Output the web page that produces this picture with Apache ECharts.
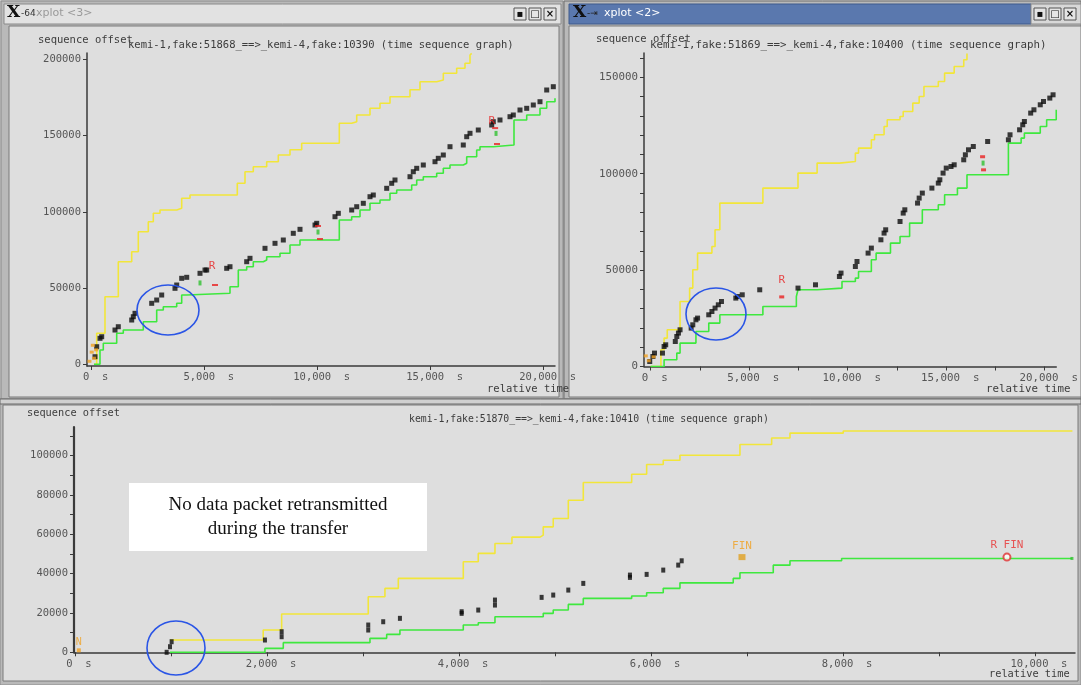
<!DOCTYPE html>
<html><head><meta charset="utf-8">
<script src="https://cdn.jsdelivr.net/npm/echarts@6/dist/echarts.min.js"></script>
<style>html,body{margin:0;padding:0;background:#fff}#c{width:1081px;height:685px}</style>
</head><body><div id="c"></div>
<script>
// ---------------- DATA ----------------
// Top-left graph (kemi-1,fake:51868 ==> kemi-4,fake:10390)
const tlYellow = [[100,0],[221,20341],[588,44357],[1177,67323],[1770,73885],[2062,87008],[2504,93570],[2726,99081],[3022,101247],[3761,102362],[3982,108924],[4350,111089],[6442,118766],[6783,126378],[7150,129659],[7743,132940],[8257,137336],[8774,140748],[9292,145013],[10956,158136],[11504,159186],[11726,163583],[12314,167979],[12757,171260],[13199,175591],[14084,180184],[14527,185433],[15265,186549],[15558,190945],[16150,194226],[16518,197507],[16739,202953],[16814,204000]];
const tlGreen = [[100,0],[367,9383],[513,13780],[1106,20341],[1398,22507],[2283,27953],[2876,35630],[3168,37795],[3761,40026],[3982,45472],[4204,46588],[6119,50919],[6487,61877],[6858,64042],[7150,67323],[7593,68438],[7743,70604],[8332,72835],[8774,78281],[9217,81562],[10956,94685],[11504,96850],[11872,101247],[12314,105643],[12757,107808],[13199,112205],[13496,114370],[14159,117651],[14381,120932],[14673,123097],[15265,125328],[15558,128609],[15854,130774],[16442,131890],[16593,136220],[17035,140617],[17181,142782],[17770,143898],[18686,160302],[19248,163583],[19836,167979],[20133,172310],[20500,174541]];
const tlSegments = [[146,4987],[221,11549],[367,17060],[442,18110],[1031,22507],[1177,24672],[1770,29068],[1841,31234],[1916,33465],[2655,40026],[2876,42192],[3097,45472],[3686,49869],[3761,52034],[3982,56430],[4204,57087],[4792,59711],[5013,61877],[5088,61877],[5973,62992],[6119,64042],[6858,67323],[7004,69554],[7668,76115],[8111,79396],[8478,81562],[8920,85958],[9217,88583],[9881,91404],[9956,92520],[10765,96850],[10912,99081],[11504,101247],[11726,103412],[12018,105643],[12314,109974],[12460,111089],[13053,115486],[13274,118766],[13420,120932],[14084,123097],[14230,126378],[14381,128609],[14673,130774],[15190,132940],[15336,135171],[15558,137336],[15854,142782],[16442,143898],[16593,149344],[16739,151575],[17106,153740],[17699,157021],[17770,159186],[18066,160302],[18509,162467],[18655,163583],[18951,166864],[19248,167979],[19540,170144],[19836,172310],[20133,179987],[20425,182152]];
const tlRetransR = [[5323,59000],[17699,154500]];
const tlRedMarks = [[5456,52034],[10013,90748],[10102,82218],[17934,144554],[17850,155000]];
const tlGreenMarks = [[4792,53400],[10013,86800],[17890,151500]];
const tlSyn = [[-100,2000],[100,4000],[0,8000],[200,9500],[50,12500]];

// Top-right graph (kemi-1,fake:51869 ==> kemi-4,fake:10400)
const trYellow = [[0,0],[519,8662],[680,14730],[840,19035],[1490,33714],[1976,40664],[2136,50156],[2379,58817],[3107,62241],[3267,70903],[3510,84751],[5694,92531],[7476,100311],[8447,105498],[9578,106328],[10388,110685],[10549,113278],[11199,117583],[11359,120176],[11845,124481],[12005,127956],[12655,129668],[12816,132261],[13301,136618],[13626,140041],[13869,145228],[14597,147822],[14917,152178],[15403,155602],[15888,159077],[16053,162400]];
const trGreen = [[0,0],[680,3475],[1325,6950],[1490,12137],[2296,18154],[2947,22510],[3510,26815],[5694,31120],[7393,36307],[7476,39782],[8447,40664],[9709,44087],[10388,45851],[10549,49274],[11199,55342],[11442,58817],[12170,64004],[12655,67427],[13141,74378],[13786,81276],[14597,83869],[14917,89056],[15568,92531],[16053,99429],[18155,115871],[18801,118465],[18966,121058],[19772,124481],[20097,127956],[20583,133143]];
const trSegments = [[-49,2593],[112,5187],[194,6950],[597,6950],[680,10373],[762,11255],[1248,12967],[1325,15560],[1408,17324],[1490,19035],[2053,19917],[2136,21629],[2296,24222],[2379,25104],[2947,26815],[3107,28527],[3267,30290],[3432,32002],[3592,33714],[4320,35477],[4403,36307],[4646,37189],[5534,39782],[7476,40664],[8364,42375],[9578,46680],[9660,48444],[10388,51867],[10471,54461],[11034,58817],[11199,61411],[11684,65716],[11845,69191],[11927,70903],[12655,75207],[12816,79564],[12898,81276],[13544,84751],[13626,87344],[13786,89938],[14272,92531],[14597,95124],[14675,96836],[14840,100311],[15000,102905],[15243,103734],[15403,104616],[15888,107209],[15971,109803],[16131,112396],[16374,114108],[17102,116701],[18155,117583],[18238,120176],[18723,122769],[18883,125363],[18966,127074],[19286,131431],[19451,133143],[19772,135736],[19937,137448],[20257,139211],[20422,140923]];
const trRetransR = [[6650,40500]];
const trRedMarks = [[6650,36100],[16845,108800],[16893,102000]];
const trGreenMarks = [[16870,105500]];
const trSyn = [[-250,5500],[150,5000],[-100,3000]];

// Bottom graph (kemi-1,fake:51870 ==> kemi-4,fake:10410)
const bYellow = [[990,6244],[1961,11320],[2153,19442],[3055,28223],[3229,32487],[3368,37563],[4045,45990],[4201,50254],[4375,55330],[4552,58528],[4844,59543],[4878,63756],[4982,68020],[5139,77310],[5295,86294],[5799,90508],[5955,95431],[6128,97614],[6302,100152],[6927,105584],[7257,108934],[7448,111400],[8003,112500],[10390,112500]];
const bGreen = [[990,0],[1979,2000],[2170,4900],[3073,7100],[3247,9100],[3385,11300],[4045,13850],[4201,15000],[4375,18100],[4878,19800],[4982,21500],[5139,24350],[5295,27400],[5799,28600],[5955,30250],[6128,32500],[6302,35300],[6857,37550],[6927,40400],[7274,44300],[7448,46500],[7986,47700],[10385,47700]];
const bSegments = [[955,0],[990,2843],[1007,5381],[1979,6244],[2153,7919],[2153,10457],[3055,11320],[3055,13858],[3211,15533],[3385,17259],[4028,19797],[4028,20609],[4201,21472],[4375,24010],[4375,26548],[4861,27919],[4982,29086],[5139,31624],[5295,35025],[5781,38071],[5781,39239],[5955,39594],[6128,41777],[6284,44315],[6320,46497]];
const bFin = [[6948,48376]];
const bRFin = [[9708,48376]];
const bGreenEnd = [[10385,47700]];
const bSyn = [[40,1000]];

// Axis tick values / labels
const tlXLabels = [0,5000,10000,15000,20000];
const tlYLabels = [0,50000,100000,150000,200000];
const trXLabels = [0,5000,10000,15000,20000];
const trXTicks = [0,2500,5000,7500,10000,12500,15000,17500,20000];
const trYLabels = [0,50000,100000,150000];
const trYTicks = [0,10000,20000,30000,40000,50000,60000,70000,80000,90000,100000,110000,120000,130000,140000,150000,160000];
const bXLabels = [0,2000,4000,6000,8000,10000];
const bXTicks = [0,1000,2000,3000,4000,5000,6000,7000,8000,9000,10000];
const bYLabels = [0,20000,40000,60000,80000,100000];
const bYTicks = [0,10000,20000,30000,40000,50000,60000,70000,80000,90000,100000,110000];

const titles = [
  'kemi-1,fake:51868_==>_kemi-4,fake:10390 (time sequence graph)',
  'kemi-1,fake:51869_==>_kemi-4,fake:10400 (time sequence graph)',
  'kemi-1,fake:51870_==>_kemi-4,fake:10410 (time sequence graph)'
];

// ---------------- CHART ----------------
const MONO = 'DejaVu Sans Mono';
const YEL = '#f2e63a', GRN = '#3ee83e', BLK = '#0c0c0c';
const chart = echarts.init(document.getElementById('c'), null, {renderer:'canvas'});

function fmtS(v){ return v.toLocaleString('en-US') + '  s'; }
function xAx(gi, min, max, labels, ticks, fs){
  return {type:'value', gridIndex:gi, min:min, max:max,
    axisLine:{onZero:false, lineStyle:{color:'#3a3a3a', width:1.5}},
    axisTick:{customValues:ticks, length:4, lineStyle:{color:'#3a3a3a'}},
    axisLabel:{customValues:labels, formatter:fmtS, fontFamily:MONO, fontSize:fs, color:'#555', margin:6, padding:[0,0,0,8]},
    splitLine:{show:false}};
}
function yAx(gi, min, max, labels, ticks, fs, w){
  return {type:'value', gridIndex:gi, min:min, max:max,
    axisLine:{show:true, onZero:false, lineStyle:{color:'#3a3a3a', width:w}},
    axisTick:{show:true, customValues:ticks, length:4, lineStyle:{color:'#3a3a3a'}},
    axisLabel:{customValues:labels, formatter:function(v){return String(v);}, fontFamily:MONO, fontSize:fs, color:'#555', margin:6},
    splitLine:{show:false}};
}
function step(name, xi, data, color){
  return {type:'line', name:name, xAxisIndex:xi, yAxisIndex:xi, data:data, step:'end', showSymbol:false,
    lineStyle:{color:color, width:1.6}, z:3, animation:false};
}
function pts(xi, data, color, symbol, size, extra){
  return Object.assign({type:'scatter', xAxisIndex:xi, yAxisIndex:xi, data:data, symbol:symbol, symbolSize:size,
    itemStyle:{color:color}, z:4, animation:false}, extra || {});
}
function lbl(xi, data, text, color){
  return {type:'scatter', xAxisIndex:xi, yAxisIndex:xi, data:data, symbolSize:1, itemStyle:{color:'rgba(0,0,0,0)'},
    label:{show:true, formatter:text, color:color, fontFamily:MONO, fontSize:11, position:'top', distance:2}, z:5, animation:false};
}

function txt(x, y, s, opt){
  return Object.assign({type:'text', x:x, y:y, z:-10, style:Object.assign({text:s, fill:'#3c3c3c', font:'10.5px "DejaVu Sans Mono"'}, opt||{})});
}
function rect(x,y,w,h,fill,stroke,z){
  return {type:'rect', z:z===undefined?-50:z, shape:{x:x,y:y,width:w,height:h}, style:{fill:fill, stroke:stroke||null, lineWidth:1}};
}
function btns(x0, y0){
  const out = [];
  const glyph = ['▪','□','×'];
  for (let i=0;i<3;i++){
    out.push(rect(x0+i*15, y0, 12, 12, '#e4e4e4', '#555', -20));
    out.push({type:'text', z:-19, x:x0+i*15+6, y:y0+6, style:{text:glyph[i], fill:'#111', font:'bold 10px "DejaVu Sans"', align:'center', verticalAlign:'middle'}});
  }
  return out;
}

const graphics = [
  rect(0,0,1081,685,'#c9c9c9',null,-100),
  // top-left window
  rect(1,1,562,398,'#b9b9b9','#8c8c8c',-90),
  rect(4,4,557,20,'#e2e2e2','#8a8a8a',-80),
  rect(9,26,550,371,'#dedede','#7a7a7a',-80),
  {type:'text', z:-20, x:7, y:4, style:{text:'X', fill:'#111', font:'bold 17px "DejaVu Serif"'}},
  {type:'text', z:-20, x:21, y:9, style:{text:'-64', fill:'#333', font:'9px "DejaVu Sans"'}},
  {type:'text', z:-20, x:36, y:8, style:{text:'xplot <3>', fill:'#9a9a9a', font:'11px "DejaVu Sans"'}},
  ...btns(514, 8),
  // top-right window
  rect(564,1,517,398,'#b9b9b9','#6f6f6f',-90),
  rect(569,4,462,20,'#5a78ae','#3f5a8c',-80),
  rect(1031,4,50,20,'#d8d8d8','#8a8a8a',-80),
  rect(569,26,512,371,'#dedede','#7a7a7a',-80),
  {type:'text', z:-20, x:573, y:4, style:{text:'X', fill:'#111', font:'bold 17px "DejaVu Serif"'}},
  {type:'text', z:-20, x:587, y:9, style:{text:'-⇥', fill:'#222', font:'9px "DejaVu Sans"'}},
  {type:'text', z:-20, x:604, y:8, style:{text:'xplot <2>', fill:'#ffffff', font:'11px "DejaVu Sans"'}},
  ...btns(1034, 8),
  // bottom window
  rect(0,399,1081,286,'#b9b9b9','#8c8c8c',-90),
  rect(0,399,1081,5,'#d0d0d0','#6a6a6a',-80),
  rect(3,405,1075,276,'#dedede','#7a7a7a',-80),
  // texts
  txt(38,35,'sequence offset'),
  txt(128,40,titles[0]),
  txt(596,34,'sequence offset'),
  txt(650,40,titles[1],{font:'10.8px "DejaVu Sans Mono"'}),
  txt(27,408,'sequence offset',{font:'10.3px "DejaVu Sans Mono"'}),
  txt(409,414,titles[2],{font:'9.8px "DejaVu Sans Mono"'}),
  txt(487,384,'relative time'),
  txt(986,384,'relative time',{font:'10.8px "DejaVu Sans Mono"'}),
  txt(989,669,'relative time',{font:'10.3px "DejaVu Sans Mono"'}),
  // annotations
  {type:'ellipse', z:100, shape:{cx:168, cy:310, rx:31, ry:25}, style:{fill:null, stroke:'#2a55e6', lineWidth:1.6}},
  {type:'ellipse', z:100, shape:{cx:716, cy:314, rx:30, ry:26}, style:{fill:null, stroke:'#2a55e6', lineWidth:1.6}},
  {type:'ellipse', z:100, shape:{cx:176, cy:648, rx:29, ry:27}, style:{fill:null, stroke:'#2a55e6', lineWidth:1.6}},
  rect(129,483,298,68,'#ffffff',null,100),
  {type:'text', z:101, x:278, y:505, style:{text:'No data packet retransmitted', fill:'#111', font:'19px "Liberation Serif"', align:'center', verticalAlign:'middle'}},
  {type:'text', z:101, x:278, y:529, style:{text:'during the transfer', fill:'#111', font:'19px "Liberation Serif"', align:'center', verticalAlign:'middle'}}
];

const option = {
  backgroundColor:'#c9c9c9',
  animation:false,
  grid:[
    {left:87, top:53, width:468, height:313},
    {left:644, top:53, width:431, height:313.5},
    {left:74, top:427, width:1001, height:225.3}
  ],
  xAxis:[
    xAx(0, -208, 20500, tlXLabels, tlXLabels, 10.5),
    xAx(1, -340, 20583, trXLabels, trXTicks, 10.8),
    xAx(2, -10, 10417, bXLabels, bXTicks, 10.5)
  ],
  yAxis:[
    yAx(0, -1100, 204265, tlYLabels, tlYLabels, 10.5, 1.5),
    yAx(1, 0, 162600, trYLabels, trYTicks, 10.8, 1.5),
    yAx(2, 0, 114500, bYLabels, bYTicks, 10.5, 2.2)
  ],
  series:[
    step('window',0,tlYellow,YEL), step('ack',0,tlGreen,GRN),
    pts(0,tlSegments,BLK,'rect',[5,5]),
    pts(0,tlSyn,'#f0a020','rect',[4,3]),
    pts(0,tlRedMarks,'#e82020','rect',[6,2]),
    pts(0,tlGreenMarks,'#30c030','rect',[3,5]),
    lbl(0,tlRetransR,'R','#e82020'),

    step('window',1,trYellow,YEL), step('ack',1,trGreen,GRN),
    pts(1,trSegments,BLK,'rect',[5,5]),
    pts(1,trSyn,'#f0a020','rect',[4,3]),
    pts(1,trRedMarks,'#e82020','rect',[5,3]),
    pts(1,trGreenMarks,'#30c030','rect',[3,5]),
    lbl(1,trRetransR,'R','#e82020'),

    step('window',2,bYellow,YEL), step('ack',2,bGreen,GRN),
    pts(2,bSegments,BLK,'rect',[4,5]),
    pts(2,bSyn,'#f0a020','rect',[4,4], {label:{show:true, formatter:'N', color:'#f0a020', fontFamily:MONO, fontSize:10, position:'top', distance:1}}),
    pts(2,bFin,'#e0a020','rect',[7,6], {label:{show:true, formatter:'FIN', color:'#f0a020', fontFamily:MONO, fontSize:11, position:'top', distance:2}}),
    pts(2,bRFin,'#e03030','emptyCircle',7, {label:{show:true, formatter:'R FIN', color:'#e83030', fontFamily:MONO, fontSize:11, position:'top', distance:2}}),
    pts(2,bGreenEnd,'#30c030','rect',[3,3])
  ],
  graphic: graphics
};
chart.setOption(option);
</script></body></html>
